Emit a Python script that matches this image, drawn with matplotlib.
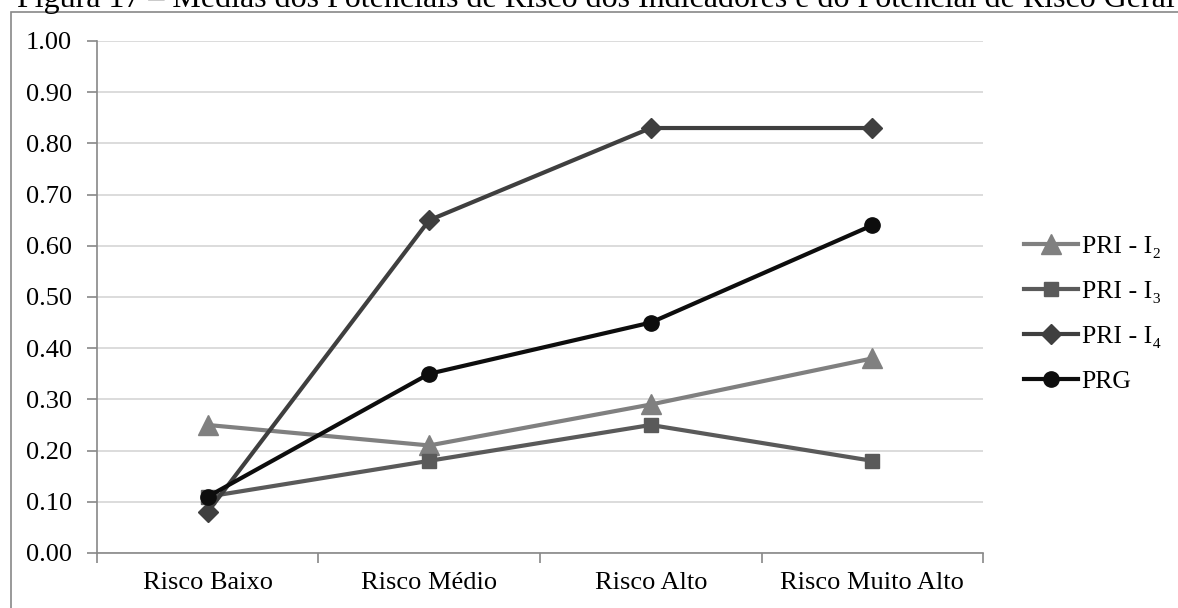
import numpy as np
import matplotlib
matplotlib.use("Agg")
import matplotlib.pyplot as plt
from matplotlib.patches import Rectangle

plt.rcParams['font.family'] = ['Liberation Serif', 'DejaVu Serif']

categories = ["Risco Baixo", "Risco Médio", "Risco Alto", "Risco Muito Alto"]

pri_i2 = [0.25, 0.21, 0.29, 0.38]
pri_i3 = [0.11, 0.18, 0.25, 0.18]
pri_i4 = [0.08, 0.65, 0.83, 0.83]
prg = [0.11, 0.35, 0.45, 0.64]

series = [
    ("PRI - I\u2082", pri_i2, "#808080", "^", 14),
    ("PRI - I\u2083", pri_i3, "#5a5a5a", "s", 10),
    ("PRI - I\u2084", pri_i4, "#3f3f3f", "D", 10),
    ("PRG", prg, "#0d0d0d", "o", 11),
]

fig = plt.figure(figsize=(11.78, 6.08), dpi=100)
ax = fig.add_axes([0.0823, 0.0905, 0.7522, 0.8421])

x = np.arange(len(categories))
for name, vals, col, mk, ms in series:
    ax.plot(x, vals, color=col, lw=3.0, marker=mk, markersize=ms,
            markerfacecolor=col, markeredgecolor=col, label=name)

ax.set_xlim(-0.5, len(categories) - 0.5)
ax.set_ylim(0, 1.0)
ax.set_yticks(np.arange(0, 1.01, 0.1))
ax.set_yticklabels(["%.2f" % v for v in np.arange(0, 1.01, 0.1)])
ax.set_xticks(x)
ax.set_xticklabels(categories)
ax.set_xticks(np.arange(-0.5, len(categories)), minor=True)
ax.tick_params(axis='x', which='major', length=0, pad=14, labelsize=19)
ax.tick_params(axis='x', which='minor', length=7, color="#888888", width=1.2)
ax.tick_params(axis='y', length=7, color="#888888", width=1.2, pad=11, labelsize=19)

ax.yaxis.grid(True, color="#d9d9d9", lw=1.3)
ax.set_axisbelow(True)
for s in ['top', 'right']:
    ax.spines[s].set_visible(False)
for s in ['left', 'bottom']:
    ax.spines[s].set_color("#888888")
    ax.spines[s].set_linewidth(1.2)

leg = fig.legend(loc='center left', bbox_to_anchor=(1011 / 1178, 1 - 314 / 608),
                 frameon=False, borderpad=0, fontsize=18.5, handlelength=2.1,
                 handletextpad=0.15, labelspacing=0.85)

# outer frame of the figure box
fig.patches.append(Rectangle((10.5 / 1178, -0.05), 1.2, 1 - 12 / 608 + 0.05,
                             transform=fig.transFigure, fill=False,
                             edgecolor="#888888", lw=1.2))

fig.text(17 / 1178, 1 - 7 / 608,
         "Figura 17 \u2013 Médias dos Potenciais de Risco dos Indicadores e do Potencial de Risco Geral",
         fontsize=23, va='baseline', ha='left')

fig.savefig("out.png", dpi=100)
